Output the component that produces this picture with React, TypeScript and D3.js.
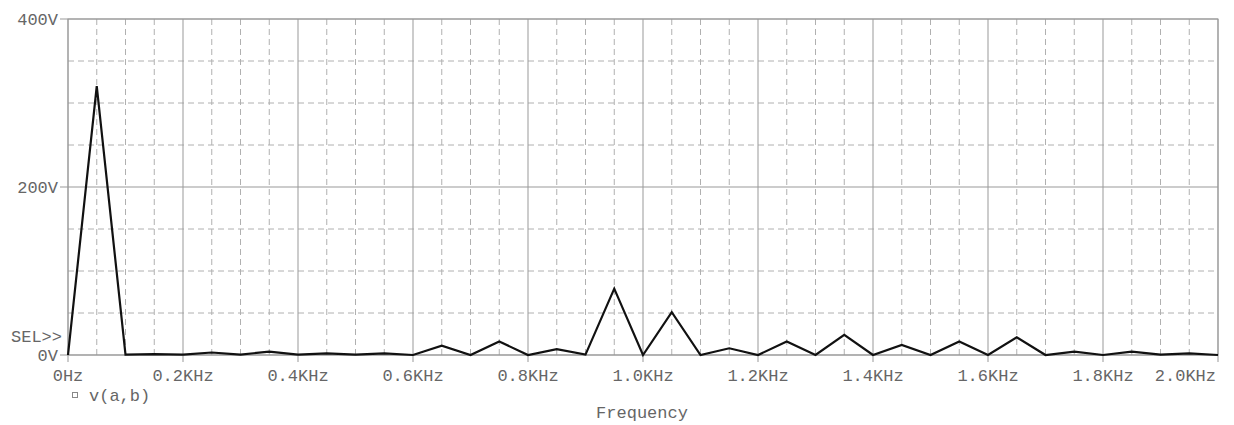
import React from "react";
import * as d3 from "d3";

const freqsHz = [0,50,100,150,200,250,300,350,400,450,500,550,600,650,700,750,800,850,900,950,1000,1050,1100,1150,1200,1250,1300,1350,1400,1450,1500,1550,1600,1650,1700,1750,1800,1850,1900,1950,2000];
const voltages = [0,320,0.5,1,0.5,3,0.5,4,0.5,2,0.5,2,0,11,0,16,0,7,0.5,79,0,51,0,8,0,16,0,24,0,12,0,16,0,21,0,4,0,4,0.5,2,0];
const xMajorTicks = [0,200,400,600,800,1000,1200,1400,1600,1800,2000];
const xTickLabels = ["0Hz","0.2KHz","0.4KHz","0.6KHz","0.8KHz","1.0KHz","1.2KHz","1.4KHz","1.6KHz","1.8KHz","2.0KHz"];
const yMajorTicks = [0,200,400];
const yTickLabels = ["0V","200V","400V"];
const yMinorTicks = [50,100,150,250,300,350];
const xMinorTicks = d3.range(50, 2000, 50).filter(v => v % 200 !== 0);

const W = 1234, H = 425;
const left = 68, right = 1218, top = 19, bottom = 355;

export default function App() {
  const x = d3.scaleLinear().domain([0, 2000]).range([left, right]);
  const y = d3.scaleLinear().domain([0, 400]).range([bottom, top]);
  const line = d3.line<number>().x((_, i) => x(freqsHz[i])).y(d => y(d));
  const font = "'Liberation Mono', 'Courier New', monospace";
  const textFill = "#666";
  const fs = 17;
  return (
    <svg width={W} height={H} style={{ position: "absolute", left: 0, top: 0, background: "#fff" }}>
      <rect x={0} y={0} width={W} height={H} fill="#fff" />
      {xMinorTicks.map(v => (
        <line key={"xm" + v} x1={x(v)} x2={x(v)} y1={top} y2={bottom} stroke="#b0b0b0" strokeWidth={1} strokeDasharray="6,4" />
      ))}
      {yMinorTicks.map(v => (
        <line key={"ym" + v} x1={left} x2={right} y1={y(v)} y2={y(v)} stroke="#b0b0b0" strokeWidth={1} strokeDasharray="6,4" />
      ))}
      {xMajorTicks.map(v => (
        <line key={"xM" + v} x1={x(v)} x2={x(v)} y1={top} y2={bottom + 7} stroke="#999" strokeWidth={1} />
      ))}
      {yMajorTicks.map(v => (
        <line key={"yM" + v} x1={left - 8} x2={right} y1={y(v)} y2={y(v)} stroke="#999" strokeWidth={1} />
      ))}
      <rect x={left} y={top} width={right - left} height={bottom - top} fill="none" stroke="#999" strokeWidth={1} />
      <path d={line(voltages) || ""} fill="none" stroke="#111" strokeWidth={2.2} strokeLinejoin="miter" />
      {yMajorTicks.map((v, i) => (
        <text key={"yl" + v} x={58} y={y(v) + 6} textAnchor="end" fontFamily={font} fontSize={fs} fill={textFill}>{yTickLabels[i]}</text>
      ))}
      <text x={62} y={342} textAnchor="end" fontFamily={font} fontSize={fs} fill={textFill}>SEL&gt;&gt;</text>
      {xMajorTicks.map((v, i) => (
        <text key={"xl" + v} x={i === xMajorTicks.length - 1 ? right - 2 : x(v)} y={381} textAnchor={i === xMajorTicks.length - 1 ? "end" : "middle"} fontFamily={font} fontSize={fs} fill={textFill}>{xTickLabels[i]}</text>
      ))}
      <rect x={72.5} y={392.5} width={5} height={5} fill="none" stroke="#888" strokeWidth={1} />
      <text x={89} y={401} fontFamily={font} fontSize={fs} fill={textFill}>v(a,b)</text>
      <text x={642} y={418} textAnchor="middle" fontFamily={font} fontSize={fs} fill={textFill}>Frequency</text>
    </svg>
  );
}
